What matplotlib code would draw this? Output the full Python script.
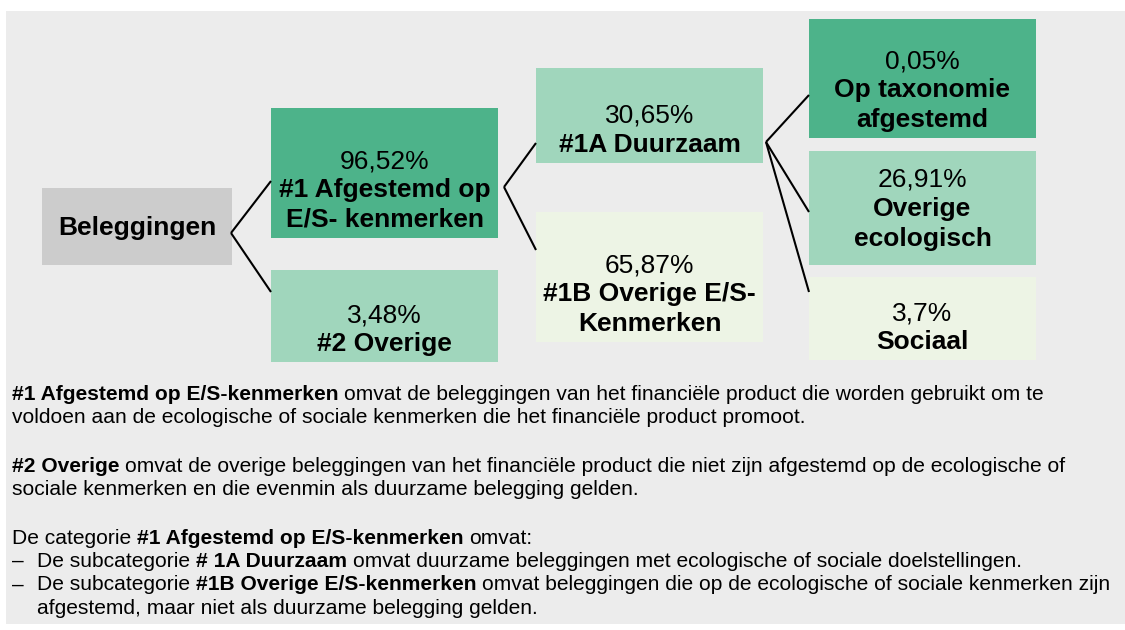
import matplotlib
matplotlib.use("Agg")
import matplotlib.pyplot as plt
from matplotlib.patches import Rectangle

plt.rcParams['font.family'] = ['Liberation Sans', 'DejaVu Sans']

# tree data
labels = ["Beleggingen", "#1 Afgestemd op\nE/S- kenmerken", "#2 Overige",
          "#1A Duurzaam", "#1B Overige E/S-\nKenmerken",
          "Op taxonomie\nafgestemd", "Overige\necologisch", "Sociaal"]
shares = ["", "96,52%", "3,48%", "30,65%", "65,87%", "0,05%", "26,91%", "3,7%"]
parents = [None, 0, 0, 1, 1, 3, 3, 3]

# explanation text, as runs of (text, bold)
notes = [
    [("#1 Afgestemd op E/S-kenmerken", True),
     (" omvat de beleggingen van het financiële product die worden gebruikt om te", False)],
    [("voldoen aan de ecologische of sociale kenmerken die het financiële product promoot.", False)],
    None,
    [("#2 Overige", True),
     (" omvat de overige beleggingen van het financiële product die niet zijn afgestemd op de ecologische of", False)],
    [("sociale kenmerken en die evenmin als duurzame belegging gelden.", False)],
    None,
    [("De categorie ", False), ("#1 Afgestemd op E/S-kenmerken", True), (" omvat:", False)],
    [("–", False), ("De subcategorie ", False), ("# 1A Duurzaam", True),
     (" omvat duurzame beleggingen met ecologische of sociale doelstellingen.", False)],
    [("–", False), ("De subcategorie ", False), ("#1B Overige E/S-kenmerken", True),
     (" omvat beleggingen die op de ecologische of sociale kenmerken zijn", False)],
    [("", False), ("afgestemd, maar niet als duurzame belegging gelden.", False)],
]

# layout (pixels): box x0, y0, x1, y1, first baseline
boxes = [
    (42, 188, 232, 265, 235),
    (271, 108, 498, 238, 168),
    (271, 270, 498, 362, 322),
    (536, 68, 763, 163, 123),
    (536, 212, 763, 342, 272),
    (809, 19, 1036, 138, 68),
    (809, 151, 1036, 265, 187),
    (809, 277, 1036, 360, 320),
]
colors = ["#cccccc", "#4db38a", "#a0d6bc", "#a0d6bc", "#edf4e5",
          "#4db38a", "#a0d6bc", "#edf4e5"]

fig = plt.figure(figsize=(11.25, 6.3), dpi=100)
ax = fig.add_axes([0, 0, 1, 1])
ax.set_xlim(0, 1125)
ax.set_ylim(630, 0)
ax.axis("off")

ax.add_patch(Rectangle((6, 11), 1125 - 6, 624 - 11, facecolor="#ececec", edgecolor="none"))

box_size = 19
line_step = 29.3
for i, (x0, y0, x1, y1, base) in enumerate(boxes):
    ax.add_patch(Rectangle((x0, y0), x1 - x0, y1 - y0, facecolor=colors[i], edgecolor="none"))
    xc = (x0 + x1) / 2
    lines = []
    if shares[i]:
        lines.append((shares[i], "normal"))
    lines += [(s, "bold") for s in labels[i].split("\n")]
    for k, (s, w) in enumerate(lines):
        ax.text(xc, base + k * line_step, s, ha="center", va="baseline",
                fontsize=box_size, fontweight=w, color="black")

# connectors: bracket from the parent's right edge to each child's left edge
vertex = {0: (231, 233), 1: (504, 187), 3: (766, 142)}
ends = {1: 181, 2: 292, 3: 143, 4: 250, 5: 95, 6: 212, 7: 292}
for i, p in enumerate(parents):
    if p is None:
        continue
    vx, vy = vertex[p]
    ax.plot([vx, boxes[i][0]], [vy, ends[i]], color="black", lw=1.5, solid_capstyle="butt")

# explanation text with mixed bold runs
renderer = fig.canvas.get_renderer()
note_size = 15.15


def text_width(s, weight):
    t = ax.text(0, 0, s, fontsize=note_size, fontweight=weight)
    w = t.get_window_extent(renderer).width
    t.remove()
    return w


space_w = {w: text_width("a a", w) - text_width("aa", w) for w in ("normal", "bold")}

y = 400
for line in notes:
    if line is None:
        y += 25
        continue
    x = 12
    for k, (s, bold) in enumerate(line):
        w = "bold" if bold else "normal"
        if k == 0 and len(line) > 1 and s in ("–", ""):
            if s:
                ax.text(12, y, s, fontsize=note_size, va="baseline", ha="left")
            x = 37
            continue
        lead = len(s) - len(s.lstrip(" "))
        trail = len(s) - len(s.rstrip(" "))
        core = s.strip(" ")
        x += lead * space_w[w]
        t = ax.text(x, y, core, fontsize=note_size, fontweight=w, va="baseline", ha="left")
        x += t.get_window_extent(renderer).width + trail * space_w[w]
    y += 23.4

fig.savefig("out.png", dpi=100, facecolor="white")
